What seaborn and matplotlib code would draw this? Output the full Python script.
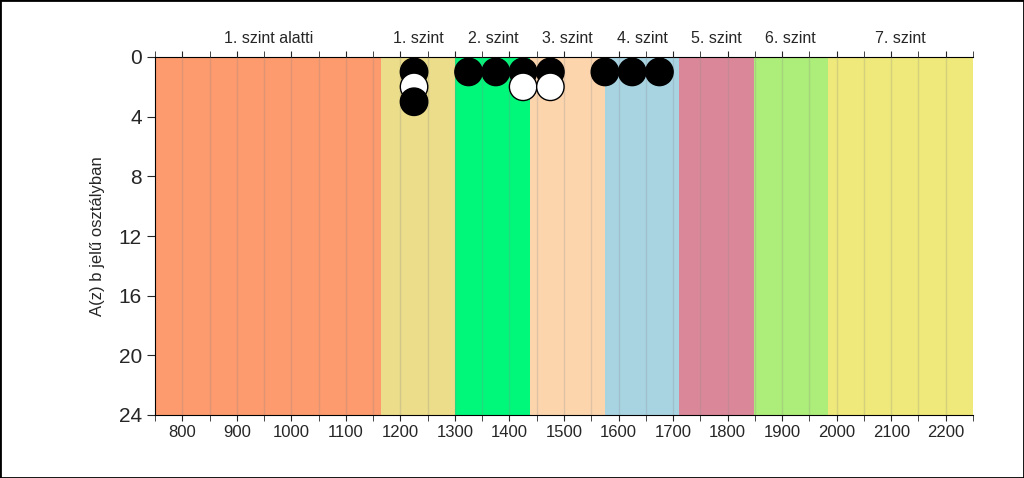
import matplotlib
matplotlib.use("Agg")
import matplotlib.pyplot as plt
import seaborn as sns
import pandas as pd
import numpy as np

# Level bands (score boundaries) and labels
band_edges = [750, 1165, 1301, 1438, 1575, 1711, 1848, 1984, 2250]
band_labels = ["1. szint alatti", "1. szint", "2. szint", "3. szint",
               "4. szint", "5. szint", "6. szint", "7. szint"]
band_colors = ["#FD9A6E", "#ECDD8A", "#00F87A", "#FDD5AD",
               "#A8D4E2", "#DA8899", "#ADEE7A", "#EEE97A"]

# Points: score, count, fill
point_x = [1225, 1225, 1225, 1325, 1375, 1425, 1425, 1475, 1475, 1575, 1625, 1675]
point_y = [1, 2, 3, 1, 1, 1, 2, 1, 2, 1, 1, 1]
point_kind = ["b", "w", "b", "b", "b", "b", "w", "b", "w", "b", "b", "b"]

y_ticks = [0, 4, 8, 12, 16, 20, 24]
x_ticks = [800, 900, 1000, 1100, 1200, 1300, 1400, 1500, 1600, 1700, 1800, 1900, 2000, 2100, 2200]

sns.set_style("white")
plt.rcParams["font.family"] = ["Arial", "Liberation Sans", "DejaVu Sans"]

fig = plt.figure(figsize=(10.24, 4.78), dpi=100)
ax = fig.add_axes([155 / 1024, 1 - 415 / 478, (973 - 155) / 1024, (415 - 57) / 478])

for i in range(len(band_labels)):
    ax.axvspan(band_edges[i], band_edges[i + 1], color=band_colors[i], lw=0, zorder=0)

for gx in range(800, 2250, 50):
    ax.axvline(gx, color="#888888", alpha=0.25, lw=1, zorder=1)

df = pd.DataFrame({"x": point_x, "y": point_y, "kind": point_kind})
sns.scatterplot(data=df, x="x", y="y", hue="kind",
                palette={"b": "black", "w": "white"},
                s=390, edgecolor="black", linewidth=1,
                legend=False, ax=ax, zorder=3)

ax.set_xlim(750, 2250)
ax.set_ylim(24, 0)
ax.set_yticks(y_ticks)
ax.set_xticks(x_ticks)
ax.set_xticks(np.arange(750, 2251, 50), minor=True)
ax.tick_params(axis="y", labelsize=15, length=6, direction="out", left=True)
ax.tick_params(axis="x", labelsize=12, length=4, direction="out", bottom=True)
ax.tick_params(axis="x", which="minor", length=4, direction="out", bottom=True)
ax.set_xlabel("")
ax.set_ylabel("A(z) b jelű osztályban", fontsize=12, labelpad=10)

ax.spines["right"].set_visible(False)
ax.spines["left"].set_color("black")
ax.spines["bottom"].set_color("black")
ax.spines["top"].set_visible(False)

# top axis with ticks and band labels
top = ax.secondary_xaxis("top")
top.set_xticks(x_ticks)
top.set_xticks(np.arange(750, 2251, 50), minor=True)
top.set_xticklabels([])
top.tick_params(axis="x", length=4, direction="out")
top.tick_params(axis="x", which="minor", length=4, direction="out")
top.spines["top"].set_color("black")

for i, lab in enumerate(band_labels):
    cx = (band_edges[i] + band_edges[i + 1]) / 2
    ax.text(cx, 1.03, lab, transform=ax.get_xaxis_transform(),
            ha="center", va="bottom", fontsize=11.5)

fig.patches.append(plt.Rectangle((0, 0), 1, 1, transform=fig.transFigure,
                                 fill=False, edgecolor="black", lw=2))

fig.savefig("out.png", dpi=100)
